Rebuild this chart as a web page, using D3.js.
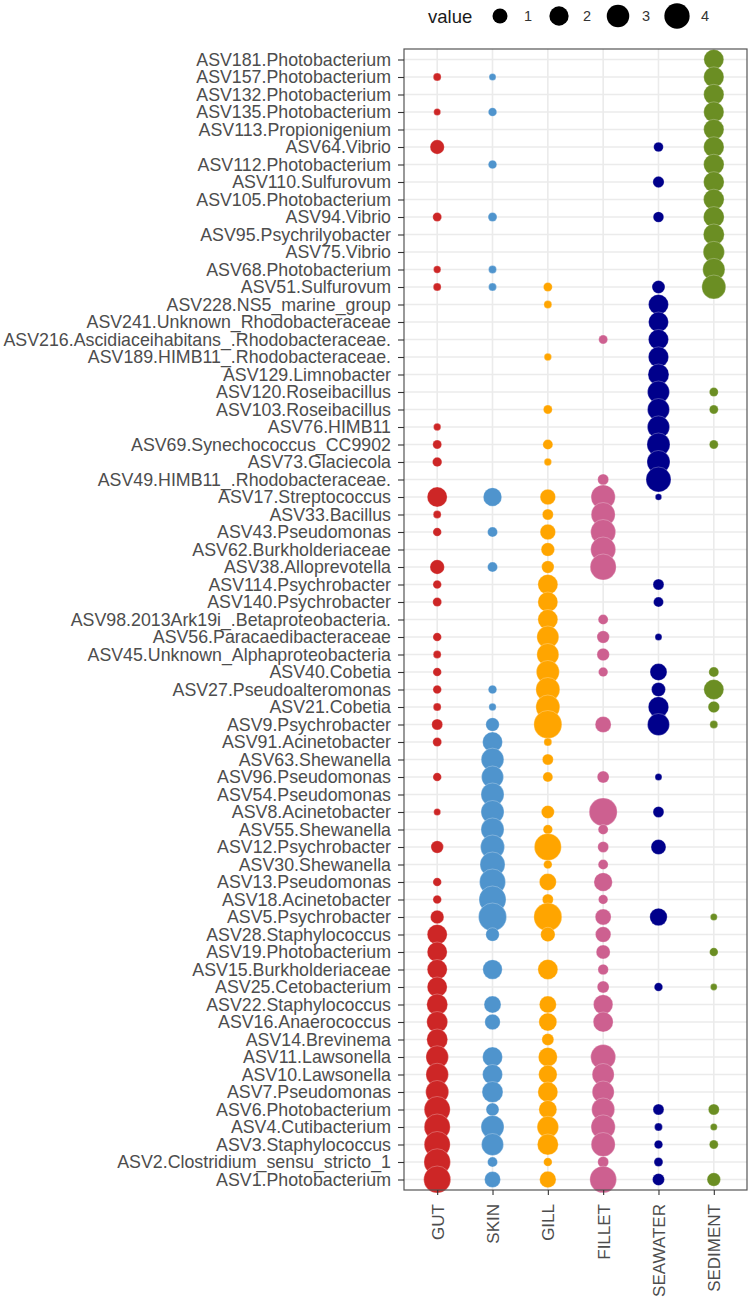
<!DOCTYPE html>
<html><head><meta charset="utf-8">
<script src="https://cdn.jsdelivr.net/npm/d3@7"></script>
<style>body{margin:0;background:#fff} svg{display:block}</style>
</head><body>
<script>
const _ = null;
const categories = ["GUT","SKIN","GILL","FILLET","SEAWATER","SEDIMENT"];
const taxa = [
  "ASV181.Photobacterium","ASV157.Photobacterium","ASV132.Photobacterium","ASV135.Photobacterium","ASV113.Propionigenium",
  "ASV64.Vibrio","ASV112.Photobacterium","ASV110.Sulfurovum","ASV105.Photobacterium","ASV94.Vibrio",
  "ASV95.Psychrilyobacter","ASV75.Vibrio","ASV68.Photobacterium","ASV51.Sulfurovum","ASV228.NS5_marine_group",
  "ASV241.Unknown_Rhodobacteraceae","ASV216.Ascidiaceihabitans_.Rhodobacteraceae.","ASV189.HIMB11_.Rhodobacteraceae.","ASV129.Limnobacter","ASV120.Roseibacillus",
  "ASV103.Roseibacillus","ASV76.HIMB11","ASV69.Synechococcus_CC9902","ASV73.Glaciecola","ASV49.HIMB11_.Rhodobacteraceae.",
  "ASV17.Streptococcus","ASV33.Bacillus","ASV43.Pseudomonas","ASV62.Burkholderiaceae","ASV38.Alloprevotella",
  "ASV114.Psychrobacter","ASV140.Psychrobacter","ASV98.2013Ark19i_.Betaproteobacteria.","ASV56.Paracaedibacteraceae","ASV45.Unknown_Alphaproteobacteria",
  "ASV40.Cobetia","ASV27.Pseudoalteromonas","ASV21.Cobetia","ASV9.Psychrobacter","ASV91.Acinetobacter",
  "ASV63.Shewanella","ASV96.Pseudomonas","ASV54.Pseudomonas","ASV8.Acinetobacter","ASV55.Shewanella",
  "ASV12.Psychrobacter","ASV30.Shewanella","ASV13.Pseudomonas","ASV18.Acinetobacter","ASV5.Psychrobacter",
  "ASV28.Staphylococcus","ASV19.Photobacterium","ASV15.Burkholderiaceae","ASV25.Cetobacterium","ASV22.Staphylococcus",
  "ASV16.Anaerococcus","ASV14.Brevinema","ASV11.Lawsonella","ASV10.Lawsonella","ASV7.Pseudomonas",
  "ASV6.Photobacterium","ASV4.Cutibacterium","ASV3.Staphylococcus","ASV2.Clostridium_sensu_stricto_1","ASV1.Photobacterium"
];
const gut = [
  _,0.10,_,0.05,_,   0.87,_,_,_,0.17,   _,_,0.07,0.10,_,   _,_,_,_,_,   _,0.07,0.17,0.22,_,
  2.21,0.10,0.14,_,0.90,   0.14,0.17,_,0.14,0.10,   0.14,0.14,0.10,0.37,0.17,   _,0.14,_,0.05,_,
  0.57,_,0.14,0.14,0.73,   2.21,2.21,2.21,2.21,2.50,   2.50,2.50,2.99,2.99,3.16,   4.28,4.28,4.28,4.48,4.69
];
const skin = [
  _,0.05,_,0.14,_,   _,0.14,_,_,0.17,   _,_,0.10,0.10,_,   _,_,_,_,_,   _,_,_,_,_,
  1.80,_,0.27,_,0.27,   _,_,_,_,_,   _,0.14,0.07,0.73,2.21,   3.05,2.82,3.16,3.16,3.16,
  3.51,3.88,4.28,4.69,5.12,   0.73,_,2.06,_,1.43,   1.10,_,2.21,2.21,2.50,   0.65,3.16,2.82,0.27,1.20
];
const gill = [
  _,_,_,_,_,   _,_,_,_,_,   _,_,_,0.17,0.10,   _,_,0.07,_,_,   0.17,_,0.27,0.07,_,
  1.10,0.37,1.10,0.73,0.57,   2.21,2.21,2.21,2.82,2.82,   3.16,3.51,3.51,5.12,0.10,   0.37,0.27,_,0.65,0.22,
  4.69,0.14,1.43,0.37,5.12,   0.90,_,2.21,_,1.43,   1.67,0.50,1.93,1.80,2.21,   1.67,2.66,2.50,0.14,1.31
];
const fillet = [
  _,_,_,_,_,   _,_,_,_,_,   _,_,_,_,_,   _,0.17,_,_,_,   _,_,_,_,0.37,
  3.60,3.51,3.88,3.88,4.28,   _,_,0.27,0.57,0.57,   0.22,_,_,1.20,_,   _,0.50,_,5.12,0.27,
  0.37,0.27,1.80,0.22,1.20,   1.10,0.82,0.32,0.50,2.06,   2.21,_,3.88,2.82,2.82,   3.16,3.60,3.51,0.37,4.55
];
const seawater = [
  _,_,_,_,_,   0.24,_,0.41,_,0.34,   _,_,_,0.65,2.21,   2.21,2.25,2.30,2.50,2.82,   2.82,2.90,3.16,3.16,3.88,
  0.03,_,_,_,_,   0.37,0.27,_,0.05,_,   1.43,0.82,2.35,2.82,_,   _,0.05,_,0.37,_,
  1.00,_,_,_,1.54,   _,_,_,0.14,_,   _,_,_,_,_,   0.37,0.10,0.14,0.17,0.50
];
const sediment = [
  2.20,2.30,2.30,2.30,2.30,   2.35,2.35,2.40,2.40,2.45,   2.50,2.60,2.90,3.50,_,   _,_,_,_,0.17,   0.17,_,0.17,_,_,
  _,_,_,_,_,   _,_,_,_,_,   0.27,2.21,0.44,0.10,_,   _,_,_,_,_,
  _,_,_,_,0.05,   _,0.14,_,0.04,_,   _,_,_,_,_,   0.37,0.05,0.17,_,0.73
];
const legendBreaks = [1, 2, 3, 4];
const seriesColors = ["#CD2626","#4F94CD","#FFA500","#CD6090","#00008B","#6B8E23"];

const series = [gut, skin, gill, fillet, seawater, sediment];
const points = [];
series.forEach((vals, ci) => vals.forEach((v, ri) => {
  if (v != null) points.push({cat: categories[ci], taxon: taxa[ri], value: v, ci});
}));

const W = 749, H = 1301;
const svg = d3.select("body").append("svg").attr("width", W).attr("height", H);
const panel = {left: 404, right: 747, top: 49, bottom: 1190};
const x = d3.scalePoint().domain(categories).range([panel.left, panel.right]).padding(0.6);
const y = d3.scalePoint().domain(taxa).range([panel.top, panel.bottom]).padding(0.6);
const r = d3.scaleSqrt().domain([0, 5.12]).range([2.35, 14]);
const color = d3.scaleOrdinal().domain(categories).range(seriesColors);

// grid
const grid = svg.append("g");
grid.selectAll("line.h").data(taxa).join("line")
  .attr("x1", panel.left).attr("x2", panel.right)
  .attr("y1", d => y(d)).attr("y2", d => y(d))
  .attr("stroke", "#EBEBEB").attr("stroke-width", 1.6);
grid.selectAll("line.v").data(categories).join("line")
  .attr("y1", panel.top).attr("y2", panel.bottom)
  .attr("x1", d => x(d)).attr("x2", d => x(d))
  .attr("stroke", "#EBEBEB").attr("stroke-width", 1.6);

// points
svg.append("g").selectAll("circle").data(points).join("circle")
  .attr("cx", d => x(d.cat)).attr("cy", d => y(d.taxon))
  .attr("r", d => r(d.value))
  .attr("fill", d => color(d.cat))
  .attr("stroke", "#fff").attr("stroke-width", 0.6).attr("stroke-opacity", 0.45);

// border
svg.append("rect").attr("x", panel.left).attr("y", panel.top)
  .attr("width", panel.right - panel.left).attr("height", panel.bottom - panel.top)
  .attr("fill", "none").attr("stroke", "#555").attr("stroke-width", 1.2);

// y axis
const yAx = svg.append("g").attr("transform", `translate(${panel.left},0)`)
  .call(d3.axisLeft(y).tickSize(6).tickPadding(7));
yAx.select(".domain").remove();
yAx.selectAll(".tick line").attr("stroke", "#333").attr("stroke-width", 1.1);
yAx.selectAll(".tick text").attr("fill", "#4D4D4D")
  .style("font-family", "'Liberation Sans', Arial, sans-serif").style("font-size", "17.8px");

// x axis
const xAx = svg.append("g").attr("transform", `translate(0,${panel.bottom})`)
  .call(d3.axisBottom(x).tickSize(5));
xAx.select(".domain").remove();
xAx.selectAll(".tick line").attr("stroke", "#333").attr("stroke-width", 1.1);
xAx.selectAll(".tick text").attr("fill", "#4D4D4D")
  .style("font-family", "'Liberation Sans', Arial, sans-serif").style("font-size", "17px")
  .attr("transform", "rotate(-90)").attr("x", -14).attr("y", 0).attr("dy", "0.36em")
  .style("text-anchor", "end");

// legend
const lg = svg.append("g");
lg.append("text").attr("x", 428).attr("y", 23).text("value")
  .style("font-family", "'Liberation Sans', Arial, sans-serif").style("font-size", "18.5px").attr("fill", "#1a1a1a");
const lx = d3.scalePoint().domain(legendBreaks).range([500, 677]);
lg.selectAll("circle").data(legendBreaks).join("circle")
  .attr("cx", d => lx(d)).attr("cy", 16).attr("r", d => r(d)).attr("fill", "#000");
lg.selectAll("text.lab").data(legendBreaks).join("text").attr("class", "lab")
  .attr("x", d => lx(d) + 24).attr("y", 21).text(d => d)
  .style("font-family", "'Liberation Sans', Arial, sans-serif").style("font-size", "14.5px").attr("fill", "#333");
</script>
</body></html>
